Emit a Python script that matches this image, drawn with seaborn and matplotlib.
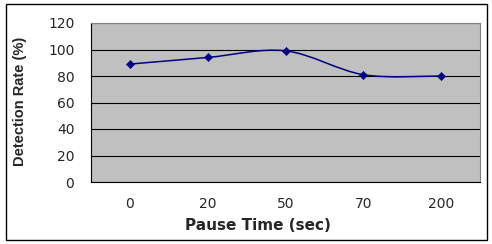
import matplotlib
matplotlib.use("Agg")
import matplotlib.pyplot as plt
from matplotlib.path import Path
from matplotlib.patches import PathPatch, Rectangle
import seaborn as sns
import pandas as pd
import numpy as np

categories = ["0", "20", "50", "70", "200"]
detection_rate = [89, 94, 99, 81, 80]
yticks = [0, 20, 40, 60, 80, 100, 120]

sns.set_style("white")
plt.rcParams['font.family'] = ['DejaVu Sans']

fig = plt.figure(figsize=(4.92, 2.44), dpi=100)
ax = fig.add_axes([91/492, 1-182/244, (480-91)/492, (182-23)/244])
ax.set_facecolor("#C0C0C0")

df = pd.DataFrame({"x": range(len(categories)), "y": detection_rate})

# smoothed line (Excel-style Bezier through the data points)
xs = df["x"].to_numpy(dtype=float)
ys = df["y"].to_numpy(dtype=float)
verts = [(xs[0], ys[0])]
codes = [Path.MOVETO]
n = len(xs)
for i in range(n - 1):
    p0 = (xs[i-1], ys[i-1]) if i > 0 else (xs[i], ys[i])
    p1 = (xs[i], ys[i])
    p2 = (xs[i+1], ys[i+1])
    p3 = (xs[i+2], ys[i+2]) if i + 2 < n else (xs[i+1], ys[i+1])
    t = 1/6
    c1 = (p1[0] + (p2[0]-p0[0])*t, p1[1] + (p2[1]-p0[1])*t)
    c2 = (p2[0] - (p3[0]-p1[0])*t, p2[1] - (p3[1]-p1[1])*t)
    verts += [c1, c2, p2]
    codes += [Path.CURVE4]*3
ax.add_patch(PathPatch(Path(verts, codes), fill=False, edgecolor="#000080", lw=1.1, zorder=3))
sns.scatterplot(data=df, x="x", y="y", ax=ax, marker="D", s=18, color="#000080",
                edgecolor="#000080", zorder=4, legend=False)

ax.set_xlim(-0.5, len(categories) - 0.5)
ax.set_ylim(0, 120)
ax.set_yticks(yticks)
ax.set_yticklabels([str(v) for v in yticks], fontsize=10)
ax.yaxis.grid(True, color="black", lw=0.8)
ax.set_axisbelow(True)

ax.set_xticks(np.arange(len(categories)))
ax.set_xticklabels(categories, fontsize=10)
ax.tick_params(axis="x", which="major", length=0, pad=11)
ax.set_xticks(np.arange(len(categories) + 1) - 0.5, minor=True)
ax.tick_params(axis="x", which="minor", length=4, width=0.8, color="black", direction="out")
ax.tick_params(axis="y", length=5, width=0.8, color="black", direction="out", pad=7)

for s in ["top", "right"]:
    ax.spines[s].set_color("#808080")
    ax.spines[s].set_linewidth(0.8)
for s in ["left", "bottom"]:
    ax.spines[s].set_color("black")
    ax.spines[s].set_linewidth(0.8)

ax.set_xlabel("Pause Time (sec)", fontsize=11, fontweight="bold")
ax.xaxis.set_label_coords((258 - 91)/389, -(225 - 182)/159)
ax.xaxis.label.set_va("center")
ax.set_ylabel("Detection Rate (%)", fontsize=10.5, fontweight="bold",
              family=['Liberation Sans', 'DejaVu Sans'])
ax.yaxis.set_label_coords((20 - 91)/389, (182 - 101)/159)
ax.yaxis.label.set_va("center")

fig.patches.append(Rectangle((6/492, 4/244), (487-6)/492, (240-4)/244, transform=fig.transFigure,
                             fill=False, edgecolor="black", lw=1.0))

fig.savefig("out.png", dpi=100)
